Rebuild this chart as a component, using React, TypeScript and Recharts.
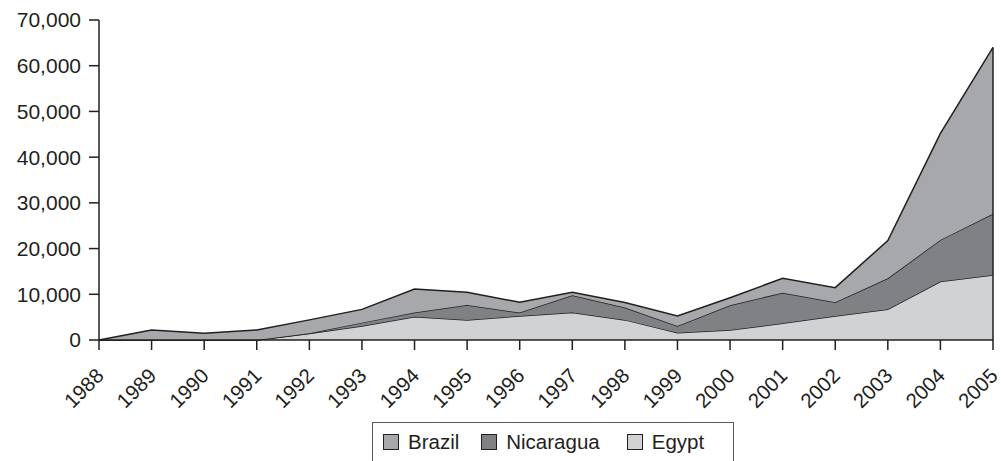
import { AreaChart, Area, XAxis, YAxis, ReferenceLine } from "recharts";

const years = [
  "1988", "1989", "1990", "1991", "1992", "1993", "1994", "1995", "1996",
  "1997", "1998", "1999", "2000", "2001", "2002", "2003", "2004", "2005",
];
// bottom layer first
const egypt = [0, 0, 0, 0, 1400, 3050, 5100, 4400, 5250, 6000, 4400, 1600, 2200, 3650, 5250, 6700, 12800, 14200];
const nicaragua = [0, 0, 0, 0, 100, 750, 900, 3250, 750, 3800, 2700, 1450, 5400, 6700, 3000, 6800, 9100, 13400];
const brazil = [0, 2200, 1450, 2200, 2900, 2900, 5150, 2800, 2250, 650, 1100, 2200, 1650, 3150, 3200, 8250, 23300, 36400];
const yTicks = [0, 10000, 20000, 30000, 40000, 50000, 60000, 70000];

const seriesNames = ["Brazil", "Nicaragua", "Egypt"];
const seriesColors: Record<string, string> = {
  Brazil: "#a7a8ab",
  Nicaragua: "#808184",
  Egypt: "#d1d2d4",
};

const ink = "#231f20";
const font = "'Liberation Sans', Arial, Helvetica, sans-serif";

const data = years.map((year, i) => ({
  year,
  Egypt: egypt[i],
  Nicaragua: nicaragua[i],
  Brazil: brazil[i],
}));

const last = data.length - 1;
const lastTotal = egypt[last] + nicaragua[last] + brazil[last];

const YearTick = ({ x, y, payload }: any) => {
  const ax = x + 6;
  const ay = y + 27;
  return (
    <text
      x={ax}
      y={ay}
      transform={`rotate(-45 ${ax} ${ay})`}
      textAnchor="end"
      fontSize={20.5}
      fontFamily={font}
      fill={ink}
    >
      {payload.value}
    </text>
  );
};

export default function App() {
  return (
    <div style={{ position: "absolute", left: 0, top: 0, width: 1001, height: 461, background: "#fff", overflow: "hidden" }}>
      <AreaChart
        width={1001}
        height={461}
        data={data}
        margin={{ top: 20, right: 8, left: 0, bottom: 0 }}
      >
        <XAxis
          dataKey="year"
          height={121}
          interval={0}
          tickSize={10}
          tickMargin={0}
          stroke={ink}
          strokeWidth={1.5}
          tick={<YearTick />}
        />
        <YAxis
          width={99}
          domain={[0, 70000]}
          ticks={yTicks}
          interval={0}
          tickSize={10}
          tickMargin={8}
          stroke={ink}
          strokeWidth={1.5}
          tick={{ fontSize: 21, fontFamily: font, fill: ink }}
          tickFormatter={(v) => v.toLocaleString("en-US")}
        />
        <Area
          type="linear"
          dataKey="Egypt"
          stackId="a"
          fill={seriesColors.Egypt}
          fillOpacity={1}
          stroke={ink}
          strokeWidth={1.5}
          isAnimationActive={false}
        />
        <Area
          type="linear"
          dataKey="Nicaragua"
          stackId="a"
          fill={seriesColors.Nicaragua}
          fillOpacity={1}
          stroke={ink}
          strokeWidth={1.5}
          isAnimationActive={false}
        />
        <Area
          type="linear"
          dataKey="Brazil"
          stackId="a"
          fill={seriesColors.Brazil}
          fillOpacity={1}
          stroke={ink}
          strokeWidth={1.5}
          isAnimationActive={false}
        />
        <ReferenceLine
          segment={[
            { x: years[last], y: 0 },
            { x: years[last], y: lastTotal },
          ]}
          stroke={ink}
          strokeWidth={1.5}
        />
      </AreaChart>
      <div
        style={{
          position: "absolute",
          left: 372,
          top: 422,
          width: 362,
          height: 60,
          border: "1.5px solid #58595b",
          boxSizing: "border-box",
          display: "flex",
          alignItems: "flex-start",
          paddingTop: 9,
          paddingLeft: 10,
          fontFamily: font,
          fontSize: 20.5,
          color: ink,
        }}
      >
        {seriesNames.map((name, i) => (
          <div key={name} style={{ display: "flex", alignItems: "center", marginRight: i === 0 ? 22 : 27 }}>
            <span
              style={{
                display: "inline-block",
                width: 16,
                height: 16,
                background: seriesColors[name],
                border: `1px solid ${ink}`,
                boxSizing: "border-box",
                marginRight: 9,
              }}
            />
            <span style={{ lineHeight: "20px" }}>{name}</span>
          </div>
        ))}
      </div>
    </div>
  );
}
